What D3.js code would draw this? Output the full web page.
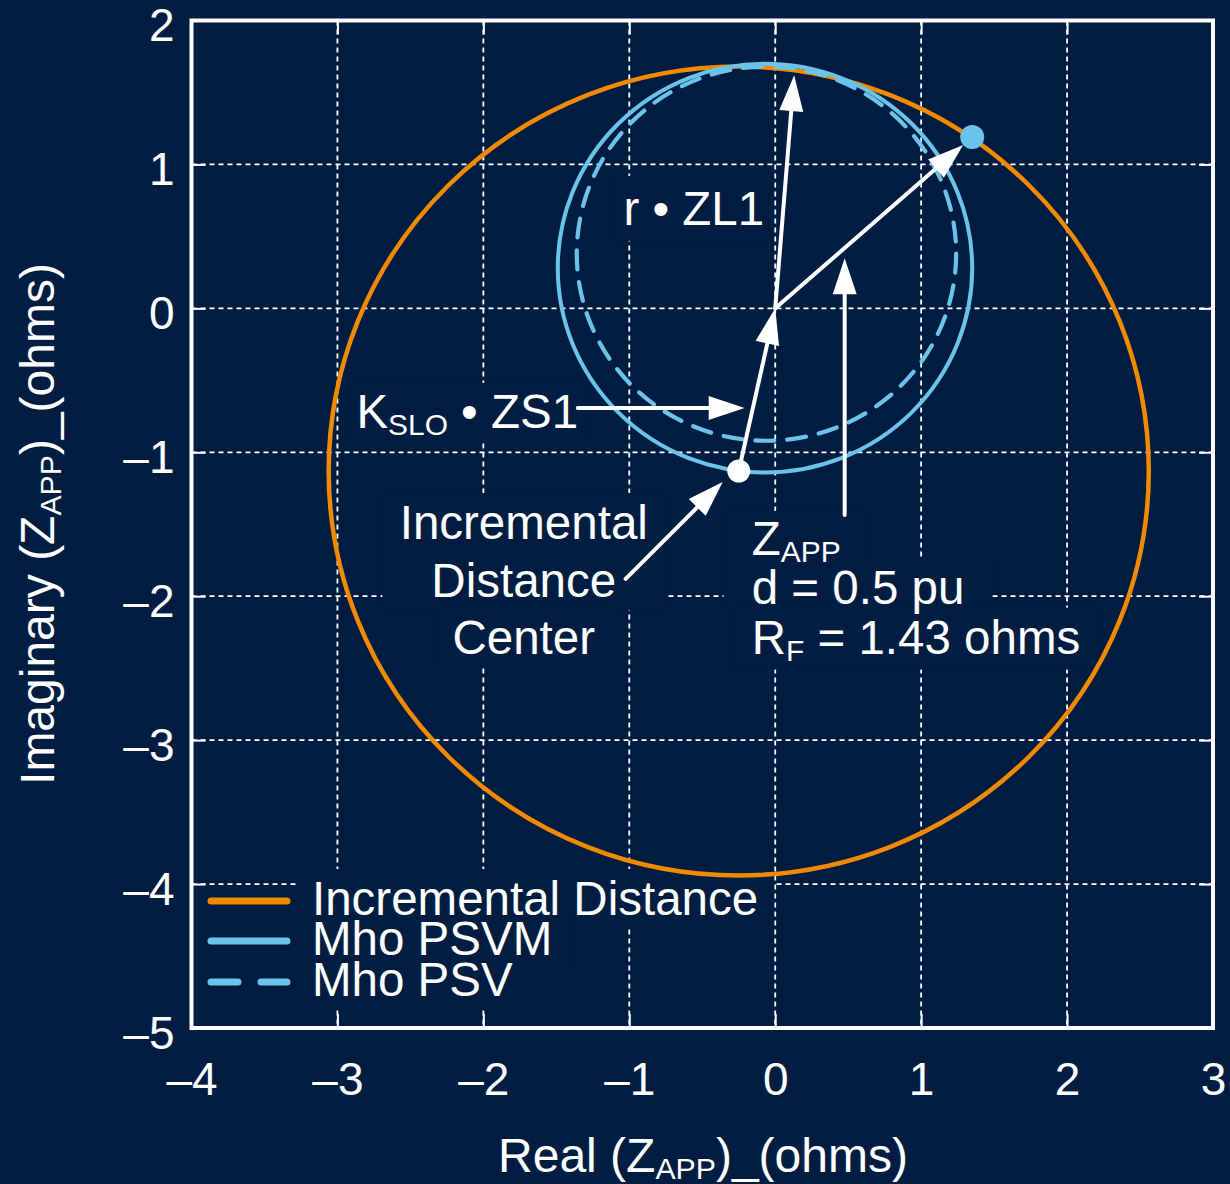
<!DOCTYPE html>
<html>
<head>
<meta charset="utf-8">
<script src="https://d3js.org/d3.v7.min.js"></script>
<style>
  html, body { margin: 0; padding: 0; background: #011e42; }
  svg { display: block; }
  text { font-family: "Liberation Sans", Arial, Helvetica, sans-serif; fill: #ffffff; }
</style>
</head>
<body>
<svg id="chart" width="1230" height="1184"></svg>
<script>
// ---- axis ticks ----
const xTickValues = [-4, -3, -2, -1, 0, 1, 2, 3];
const xTickLabels = ["–4", "–3", "–2", "–1", "0", "1", "2", "3"];
const yTickValues = [2, 1, 0, -1, -2, -3, -4, -5];
const yTickLabels = ["2", "1", "0", "–1", "–2", "–3", "–4", "–5"];

// ---- characteristic circles (ohms) ----
const seriesNames = ["Incremental Distance", "Mho PSVM", "Mho PSV"];
const centerRe   = [-0.25, -0.07, -0.06];
const centerIm   = [-1.13,  0.28,  0.38];
const radius     = [ 2.81,  1.42,  1.30];

// ---- impedance points (ohms, [re, im]) ----
const origin   = [0, 0];
const idCenter = [-0.25, -1.13];   // incremental distance center = -KSLO·ZS1
const zApp     = [1.35, 1.19];     // apparent impedance, d = 0.5 pu, RF = 1.43 ohms
const rZL1     = [0.13, 1.62];     // reach setting r·ZL1

// ---- styling ----
const BG = "#011e42";
const ORANGE = "#f28a00";
const BLUE = "#6cc3ea";
const FONT = 46;
const NOTE = 47.5;

const svg = d3.select("#chart");
svg.append("rect").attr("width", 1230).attr("height", 1184).attr("fill", BG);

const x = d3.scaleLinear().domain([-4, 3]).range([191.5, 1213]);
const y = d3.scaleLinear().domain([-5, 2]).range([1028, 20.5]);

const gGrid = svg.append("g");
const gBg = svg.append("g");
const gCircles = svg.append("g");
const gArrows = svg.append("g");
const gDots = svg.append("g");
const gText = svg.append("g");
const gAxes = svg.append("g");

// ---- dotted grid ----
gGrid.selectAll("line.vx").data(xTickValues.slice(1, -1)).join("line")
  .attr("x1", d => x(d)).attr("x2", d => x(d))
  .attr("y1", y(2)).attr("y2", y(-5))
  .attr("stroke", "#ffffff").attr("stroke-width", 1.8).attr("stroke-dasharray", "5,4");
gGrid.selectAll("line.hy").data(yTickValues.slice(1, -1)).join("line")
  .attr("y1", d => y(d)).attr("y2", d => y(d))
  .attr("x1", x(-4)).attr("x2", x(3))
  .attr("stroke", "#ffffff").attr("stroke-width", 1.8).attr("stroke-dasharray", "5,4");

// ---- axes (inward ticks, labels) ----
function styleAxis(g) {
  g.attr("font-size", FONT).attr("font-family", '"Liberation Sans", Arial, sans-serif');
  g.select(".domain").remove();
  g.selectAll(".tick line").attr("stroke", "#ffffff").attr("stroke-width", 2);
  g.selectAll(".tick text").attr("fill", "#ffffff");
}
gAxes.append("g").attr("transform", `translate(0,${y(-5)})`)
  .call(d3.axisBottom(x).tickValues(xTickValues).tickFormat((d, i) => xTickLabels[i])
    .tickSize(-14).tickPadding(34))
  .call(styleAxis);
gAxes.append("g").attr("transform", `translate(${x(-4)},0)`)
  .call(d3.axisLeft(y).tickValues(yTickValues).tickFormat((d, i) => yTickLabels[i])
    .tickSize(-14).tickPadding(17))
  .call(styleAxis)
  .call(g => g.selectAll(".tick text").attr("dy", "0.44em"));
gAxes.append("g").attr("transform", `translate(0,${y(2)})`)
  .call(d3.axisTop(x).tickValues(xTickValues).tickFormat("").tickSize(-14))
  .call(styleAxis);
gAxes.append("g").attr("transform", `translate(${x(3)},0)`)
  .call(d3.axisRight(y).tickValues(yTickValues).tickFormat("").tickSize(-14))
  .call(styleAxis);

// plot frame
gAxes.append("rect")
  .attr("x", x(-4)).attr("y", y(2))
  .attr("width", x(3) - x(-4)).attr("height", y(-5) - y(2))
  .attr("fill", "none").attr("stroke", "#ffffff").attr("stroke-width", 4);

// ---- circles ----
const circleStyles = [
  { color: ORANGE, width: 4.5, dash: null },
  { color: BLUE, width: 4, dash: null },
  { color: BLUE, width: 4.2, dash: "19,13" }
];
gCircles.selectAll("ellipse").data(seriesNames).join("ellipse")
  .attr("cx", (d, i) => x(centerRe[i]))
  .attr("cy", (d, i) => y(centerIm[i]))
  .attr("rx", (d, i) => x(radius[i]) - x(0))
  .attr("ry", (d, i) => y(0) - y(radius[i]))
  .attr("fill", "none")
  .attr("stroke", (d, i) => circleStyles[i].color)
  .attr("stroke-width", (d, i) => circleStyles[i].width)
  .attr("stroke-dasharray", (d, i) => circleStyles[i].dash)
  .attr("stroke-linecap", "round");

// ---- arrows ----
function arrow(p0, p1, trimEnd = 0) {
  const x0 = x(p0[0]), y0 = y(p0[1]);
  let x1 = x(p1[0]), y1 = y(p1[1]);
  const L = Math.hypot(x1 - x0, y1 - y0);
  const ux = (x1 - x0) / L, uy = (y1 - y0) / L;
  x1 -= ux * trimEnd; y1 -= uy * trimEnd;
  const hl = 36, hw = 12;
  const bx = x1 - ux * hl, by = y1 - uy * hl;
  gArrows.append("line")
    .attr("x1", x0).attr("y1", y0)
    .attr("x2", bx + ux * 3).attr("y2", by + uy * 3)
    .attr("stroke", "#ffffff").attr("stroke-width", 4).attr("stroke-linecap", "round");
  gArrows.append("path")
    .attr("d", `M${x1},${y1}L${bx - uy * hw},${by + ux * hw}L${bx + uy * hw},${by - ux * hw}Z`)
    .attr("fill", "#ffffff");
}
arrow(origin, rZL1);
arrow(origin, zApp, 12);
arrow(idCenter, origin);
// label pointers
arrow([-1.353, -0.692], [-0.209, -0.692]);
arrow([0.476, -1.435], [0.476, 0.349]);
arrow([-1.025, -1.880], [-0.360, -1.206]);

// ---- points ----
gDots.append("circle").attr("cx", x(idCenter[0])).attr("cy", y(idCenter[1]))
  .attr("r", 11.5).attr("fill", "#ffffff");
gDots.append("circle").attr("cx", x(zApp[0])).attr("cy", y(zApp[1]))
  .attr("r", 12).attr("fill", BLUE);

// ---- text helper: segments with optional subscripts, plus a masking background ----
function label(parent, px, py, segs, opts = {}) {
  const t = parent.append("text")
    .attr("x", px).attr("y", py)
    .attr("font-size", opts.size || NOTE)
    .attr("text-anchor", opts.anchor || "start");
  if (opts.rotate) t.attr("transform", `rotate(${opts.rotate},${px},${py})`);
  let shifted = 0;
  segs.forEach(s => {
    const sp = t.append("tspan").text(s.t);
    if (s.sub) {
      sp.attr("font-size", "0.63em").attr("dy", 7 - shifted);
      shifted = 7;
    } else if (shifted) {
      sp.attr("dy", -shifted);
      shifted = 0;
    }
  });
  if (opts.bg) {
    const b = t.node().getBBox();
    const padX = opts.padX != null ? opts.padX : 14;
    const padY = opts.padY != null ? opts.padY : 3;
    gBg.append("rect")
      .attr("x", b.x - padX).attr("y", b.y - padY)
      .attr("width", b.width + 2 * padX).attr("height", b.height + 2 * padY)
      .attr("fill", BG);
  }
  return t;
}

// annotations
label(gText, x(-1.04), y(0.58), [{ t: "r • ZL1" }], { bg: true, padX: 10, padY: 6 });
label(gText, x(-2.87), y(-0.83), [{ t: "K" }, { t: "SLO", sub: true }, { t: " • ZS1" }], { bg: true, padX: 8, padY: 2 });

label(gText, x(-1.723), y(-1.602), [{ t: "Incremental" }], { anchor: "middle", bg: true, padX: 18 });
label(gText, x(-1.723), y(-2.005), [{ t: "Distance" }], { anchor: "middle", bg: true, padX: 49 });
label(gText, x(-1.723), y(-2.401), [{ t: "Center" }], { anchor: "middle", bg: true, padX: 18 });

label(gText, x(-0.161), y(-1.713), [{ t: "Z" }, { t: "APP", sub: true }], { bg: true, padX: 25, padY: 1 });
label(gText, x(-0.161), y(-2.052), [{ t: "d = 0.5 pu" }], { bg: true, padX: 28, padY: 1 });
label(gText, x(-0.161), y(-2.399), [{ t: "R" }, { t: "F", sub: true }, { t: " = 1.43 ohms" }], { bg: true, padX: 20, padY: 3 });

// axis titles
label(gText, 703, 1172, [{ t: "Real (Z" }, { t: "APP", sub: true }, { t: ")_(ohms)" }], { anchor: "middle", size: 48 });
label(gText, 54, 524, [{ t: "Imaginary (Z" }, { t: "APP", sub: true }, { t: ")_(ohms)" }], { anchor: "middle", rotate: -90, size: 48 });

// ---- legend ----
const legendRowY = [901, 941, 982];
const legendStyles = [
  { color: ORANGE, dash: null },
  { color: BLUE, dash: null },
  { color: BLUE, dash: "27,23" }
];
const gLegend = svg.append("g");
seriesNames.forEach((name, i) => {
  gLegend.append("line")
    .attr("x1", 211).attr("x2", 287)
    .attr("y1", legendRowY[i]).attr("y2", legendRowY[i])
    .attr("stroke", legendStyles[i].color).attr("stroke-width", 7)
    .attr("stroke-linecap", "round")
    .attr("stroke-dasharray", legendStyles[i].dash);
  label(gLegend, 312, legendRowY[i] + 14, [{ t: name }], { bg: true, padX: 16, padY: 3, size: 47.5 });
});
</script>
</body>
</html>
